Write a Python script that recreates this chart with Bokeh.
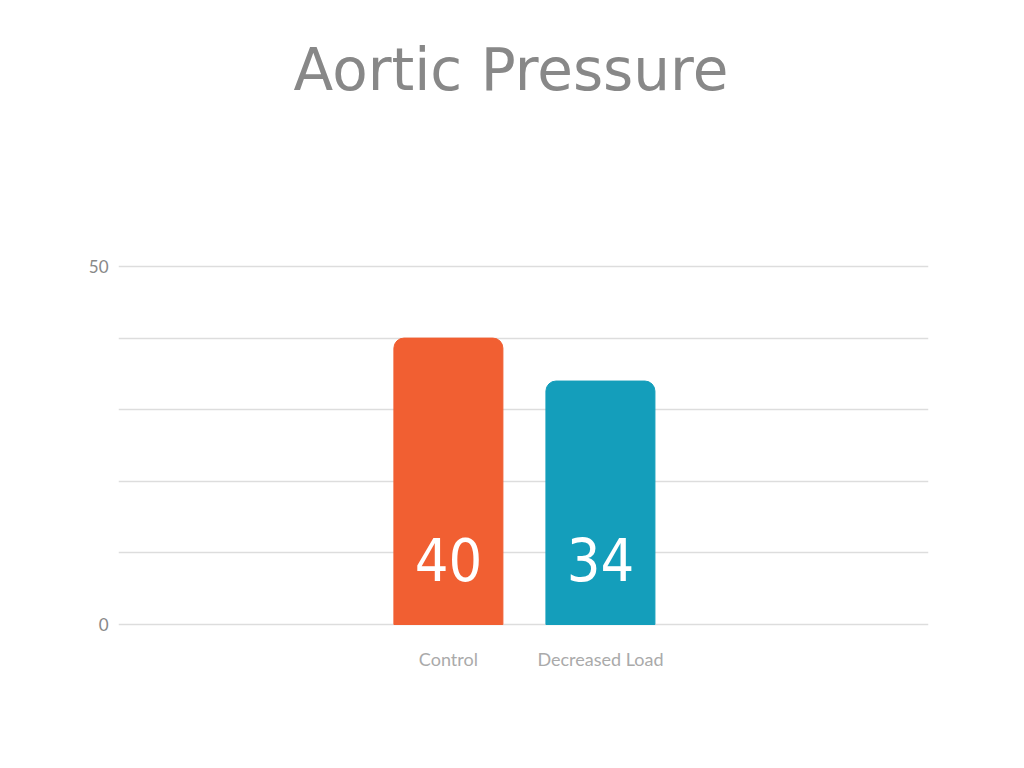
from bokeh.plotting import figure
from bokeh.models import Range1d, FixedTicker, Title, ColumnDataSource
from bokeh.core.properties import value
from bokeh.embed import file_html
from bokeh.resources import INLINE

title_text = "Aortic Pressure"
categories = ["Control", "Decreased Load"]
values = [40, 34]
colors = ["#F15F32", "#149EBB"]
y_ticks = [0, 50]
grid_ticks = [0, 10, 20, 30, 40, 50]

xpos = list(range(len(categories)))
labels = [str(v) for v in values]
src = ColumnDataSource(dict(x=xpos, top=values, color=colors, label=labels,
                            base=[0] * len(values)))

pad = 2 / 7.18
p = figure(width=1024, height=768, output_backend="svg", toolbar_location=None,
           x_range=Range1d(0.5 - 2.664 - 0.006, 0.5 + 2.664 - 0.006),
           y_range=Range1d(-pad, 50 + pad),
           min_border_left=118, min_border_right=96, min_border_top=263,
           min_border_bottom=142)
p.outline_line_color = None
p.background_fill_color = "white"
p.border_fill_color = "white"

# spacer panel nearest the frame, then the visible title above it
spacer = Title(text=" ", text_font_size="10px", standoff=115,
               text_color="white")
p.add_layout(spacer, "above")
t = Title(text=title_text, align="left",
          text_font="DejaVu Sans", text_font_size="58px",
          text_font_style="normal", text_color="#888888",
          offset=175, standoff=66)
p.add_layout(t, "above")

p.vbar(x="x", top="top", width=0.717, color="color", source=src,
       border_radius=(10, 10, 0, 0))

p.text(x="x", y="base", text="label", source=src, text_align="center",
       text_baseline="alphabetic", y_offset=-65, text_color="white",
       text_font=value("DejaVu Sans Condensed, Roboto Condensed, sans-serif"),
       text_font_size="59px")

p.xaxis.ticker = FixedTicker(ticks=xpos)
p.xaxis.major_label_overrides = {i: c for i, c in zip(xpos, categories)}
p.xaxis.axis_line_color = None
p.xaxis.major_tick_line_color = None
p.xaxis.minor_tick_line_color = None
p.xaxis.major_label_text_font = "Lato"
p.xaxis.major_label_text_font_size = "18px"
p.xaxis.major_label_text_color = "#aaaaaa"
p.xaxis.major_label_standoff = 15
p.xgrid.visible = False

p.yaxis.ticker = FixedTicker(ticks=y_ticks)
p.yaxis.axis_line_color = None
p.yaxis.major_tick_line_color = None
p.yaxis.minor_tick_line_color = None
p.yaxis.major_label_text_font = "Lato"
p.yaxis.major_label_text_font_size = "17px"
p.yaxis.major_label_text_color = "#888888"
p.yaxis.major_label_standoff = 4
p.ygrid.ticker = FixedTicker(ticks=grid_ticks)
p.ygrid.grid_line_color = "#dddddd"
p.ygrid.grid_line_width = 1.5
p.ygrid.level = "underlay"

open("out.html", "w").write(file_html(p, INLINE))
